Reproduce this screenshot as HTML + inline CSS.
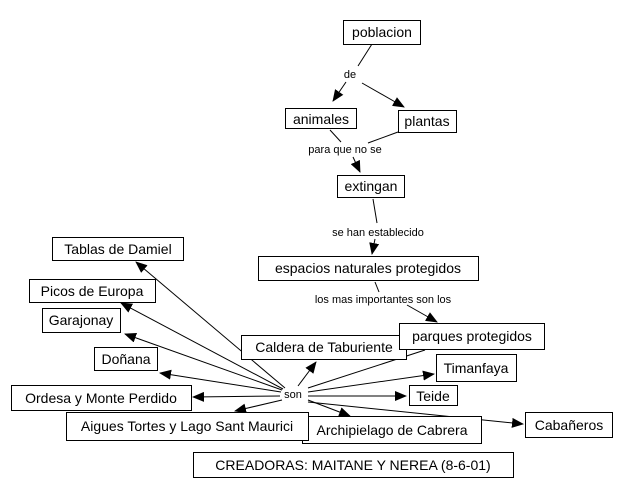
<!DOCTYPE html>
<html><head><meta charset="utf-8"><style>
html,body{margin:0;padding:0;background:#fff}
svg{display:block}
text{font-family:"Liberation Sans",Arial,sans-serif;fill:#000}
.b{font-size:14px}
.l{font-size:11px}
rect{fill:#fff;stroke:#000;stroke-width:1}
line{stroke:#000;stroke-width:1}
</style></head><body>
<svg width="625" height="497" viewBox="0 0 625 497">
<defs><marker id="a" markerWidth="12" markerHeight="10" refX="11" refY="5" orient="auto" markerUnits="userSpaceOnUse"><path d="M0,0 L12,5 L0,10 z" fill="#000"/></marker></defs>
<g>
<line x1="372" y1="44" x2="358" y2="66"/>
<line x1="346" y1="82" x2="333" y2="101" marker-end="url(#a)"/>
<line x1="362" y1="83" x2="404" y2="107" marker-end="url(#a)"/>
<line x1="330" y1="130" x2="341" y2="142"/>
<line x1="398" y1="132" x2="368" y2="143"/>
<line x1="353" y1="157" x2="360" y2="172" marker-end="url(#a)"/>
<line x1="373" y1="199" x2="377" y2="223"/>
<line x1="375" y1="239" x2="372" y2="254" marker-end="url(#a)"/>
<line x1="375" y1="282" x2="379" y2="292"/>
<line x1="407" y1="305" x2="437" y2="322" marker-end="url(#a)"/>
<line x1="425" y1="350" x2="308" y2="388"/>
<line x1="285" y1="388" x2="136" y2="262" marker-end="url(#a)"/>
<line x1="283" y1="389" x2="121" y2="303" marker-end="url(#a)"/>
<line x1="282" y1="390" x2="125" y2="334" marker-end="url(#a)"/>
<line x1="281" y1="392" x2="160" y2="373" marker-end="url(#a)"/>
<line x1="280" y1="396" x2="193" y2="397" marker-end="url(#a)"/>
<line x1="282" y1="400" x2="235" y2="411" marker-end="url(#a)"/>
<line x1="298" y1="386" x2="316" y2="362" marker-end="url(#a)"/>
<line x1="308" y1="392" x2="434" y2="374" marker-end="url(#a)"/>
<line x1="308" y1="396" x2="406" y2="396" marker-end="url(#a)"/>
<line x1="308" y1="400" x2="350" y2="416" marker-end="url(#a)"/>
<line x1="308" y1="402" x2="523" y2="424" marker-end="url(#a)"/>
</g>
<rect x="343.5" y="20.5" width="77" height="24"/><text class="b" x="382" y="37" text-anchor="middle">poblacion</text>
<rect x="285.5" y="108.5" width="71" height="20"/><text class="b" x="321" y="124" text-anchor="middle">animales</text>
<rect x="398.5" y="110.5" width="58" height="22"/><text class="b" x="427" y="126" text-anchor="middle">plantas</text>
<rect x="337.5" y="175.5" width="67" height="22"/><text class="b" x="371" y="191" text-anchor="middle">extingan</text>
<rect x="258.5" y="256.5" width="220" height="24"/><text class="b" x="368" y="273" text-anchor="middle">espacios naturales protegidos</text>
<rect x="52.5" y="237.5" width="131" height="23"/><text class="b" x="118" y="254" text-anchor="middle">Tablas de Damiel</text>
<rect x="29.5" y="279.5" width="126" height="23"/><text class="b" x="92" y="296" text-anchor="middle">Picos de Europa</text>
<rect x="42.5" y="308.5" width="78" height="24"/><text class="b" x="81" y="325" text-anchor="middle">Garajonay</text>
<rect x="94.5" y="347.5" width="63" height="23"/><text class="b" x="126" y="364" text-anchor="middle">Doñana</text>
<rect x="11.5" y="385.5" width="180" height="25"/><text class="b" x="101" y="403" text-anchor="middle">Ordesa y Monte Perdido</text>
<rect x="302.5" y="416.5" width="179" height="27"/><text class="b" x="392" y="435" text-anchor="middle">Archipielago de Cabrera</text>
<rect x="66.5" y="412.5" width="242" height="28"/><text class="b" x="187" y="431" text-anchor="middle">Aigues Tortes y Lago Sant Maurici</text>
<rect x="241.5" y="335.5" width="165" height="24"/><text class="b" x="324" y="352" text-anchor="middle">Caldera de Taburiente</text>
<rect x="399.5" y="323.5" width="145" height="26"/><text class="b" x="472" y="341" text-anchor="middle">parques protegidos</text>
<rect x="436.5" y="354.5" width="80" height="27"/><text class="b" x="476" y="373" text-anchor="middle">Timanfaya</text>
<rect x="409.5" y="385.5" width="48" height="20"/><text class="b" x="433" y="401" text-anchor="middle">Teide</text>
<rect x="525.5" y="412.5" width="87" height="25"/><text class="b" x="569" y="430" text-anchor="middle">Cabañeros</text>
<rect x="193.5" y="452.5" width="320" height="25"/><text class="b" x="353" y="470" text-anchor="middle">CREADORAS: MAITANE Y NEREA (8-6-01)</text>
<text class="l" x="350" y="78" text-anchor="middle">de</text>
<text class="l" x="345" y="153" text-anchor="middle">para que no se</text>
<text class="l" x="378" y="236" text-anchor="middle">se han establecido</text>
<text class="l" x="383" y="303" text-anchor="middle">los mas importantes son los</text>
<text class="l" x="293" y="398" text-anchor="middle">son</text>
</svg>
</body></html>
